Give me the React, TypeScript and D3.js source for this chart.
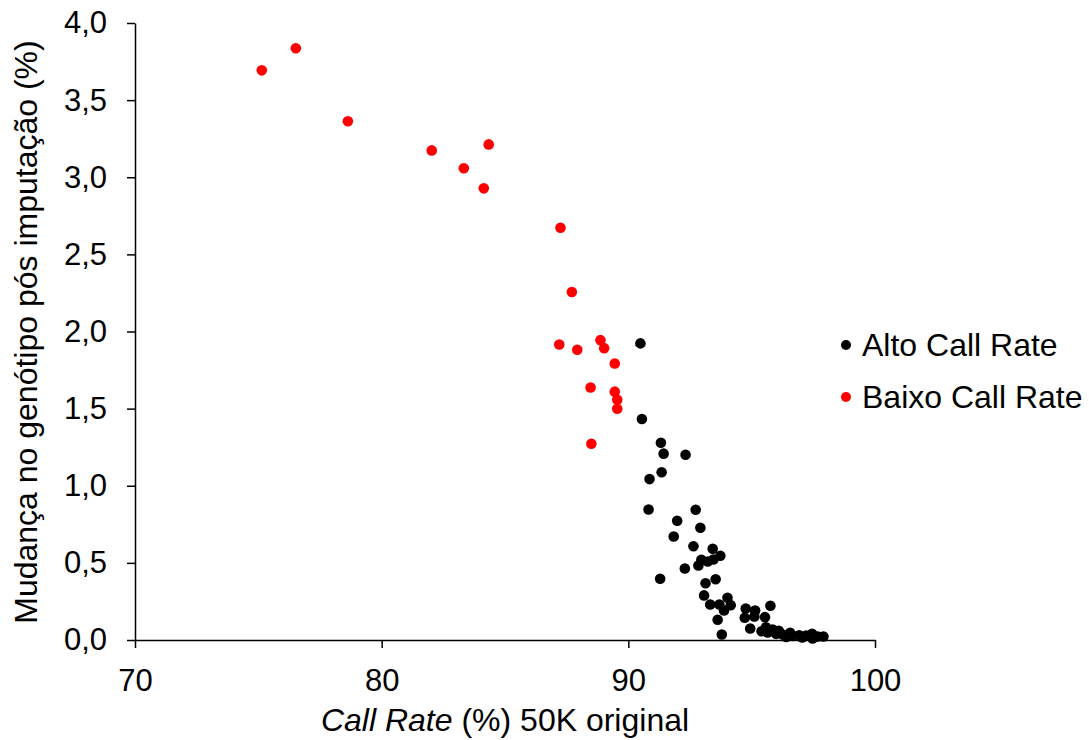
import * as d3 from "d3";
import { useEffect, useRef } from "react";

// Alto Call Rate: [call rate %, mudança %]
const altoX = [
  90.49, 90.55, 91.32, 91.43, 92.32, 91.35, 90.86, 90.82, 92.73, 91.98, 92.92, 91.84, 92.64,
  93.42, 93.73, 92.96, 93.22, 93.45, 92.84, 92.29, 91.29, 93.54, 93.13, 93.07, 94.02, 93.32,
  93.69, 94.15, 93.88, 94.76, 95.14, 95.76, 94.72, 95.11, 95.54, 93.62, 94.94, 93.79, 95.4,
  95.58, 95.65, 95.85, 95.99, 96.26, 96.56, 96.66, 96.93, 97.21, 97.45, 97.47, 97.68, 97.91,
  96.4, 97.05, 96.1,
];
const altoY = [
  1.923, 1.433, 1.279, 1.208, 1.201, 1.088, 1.043, 0.846, 0.844, 0.773, 0.728, 0.671, 0.608,
  0.591, 0.546, 0.52, 0.509, 0.522, 0.483, 0.464, 0.397, 0.394, 0.368, 0.289, 0.274, 0.23,
  0.23, 0.226, 0.191, 0.204, 0.191, 0.222, 0.144, 0.152, 0.148, 0.131, 0.075, 0.036, 0.057,
  0.083, 0.049, 0.068, 0.04, 0.036, 0.047, 0.027, 0.031, 0.029, 0.04, 0.01, 0.023, 0.023,
  0.02, 0.016, 0.06,
];

// Baixo Call Rate
const baixoX = [
  75.14, 76.52, 78.63, 82.03, 84.34, 83.33, 84.14, 87.25, 87.71, 87.2, 87.93, 88.87, 89.02,
  89.45, 88.47, 89.45, 89.55, 89.55, 88.5,
];
const baixoY = [
  3.693, 3.836, 3.363, 3.174, 3.213, 3.058, 2.928, 2.673, 2.256, 1.916, 1.882, 1.944, 1.892,
  1.793, 1.637, 1.61, 1.558, 1.499, 1.272,
];

const xTicks = [70, 80, 90, 100];
const yTicks = [0, 0.5, 1, 1.5, 2, 2.5, 3, 3.5, 4];

const series = [
  { name: "Alto Call Rate", color: "#000000", xs: altoX, ys: altoY },
  { name: "Baixo Call Rate", color: "#ff0000", xs: baixoX, ys: baixoY },
];

const font = "Arial, 'Liberation Sans', sans-serif";

export default function App() {
  const ref = useRef<SVGSVGElement>(null);

  useEffect(() => {
    const width = 1089;
    const height = 740;
    const margin = { top: 23, right: 214, bottom: 100, left: 135 };
    const innerWidth = width - margin.left - margin.right;
    const innerHeight = height - margin.top - margin.bottom;

    const svg = d3.select(ref.current);
    svg.selectAll("*").remove();

    const x = d3.scaleLinear().domain([70, 100]).range([0, innerWidth]);
    const y = d3.scaleLinear().domain([0, 4]).range([innerHeight, 0]);
    const fmt = (v: number) => d3.format(".1f")(v).replace(".", ",");

    const g = svg.append("g").attr("transform", `translate(${margin.left},${margin.top})`);

    const xAxis = g
      .append("g")
      .attr("transform", `translate(0,${innerHeight})`)
      .call(d3.axisBottom(x).tickValues(xTicks).tickSize(8).tickSizeOuter(0).tickPadding(21));
    xAxis.selectAll("text").style("font-family", font).style("font-size", "31px").attr("fill", "#000");

    const yAxis = g
      .append("g")
      .call(d3.axisLeft(y).tickValues(yTicks).tickFormat((d) => fmt(+d)).tickSize(8).tickSizeOuter(0).tickPadding(20));
    yAxis.selectAll("text").style("font-family", font).style("font-size", "31px").attr("fill", "#000");

    [xAxis, yAxis].forEach((a) => {
      a.selectAll("line").attr("stroke", "#000").attr("stroke-width", 1.5);
      a.select(".domain").attr("stroke", "#000").attr("stroke-width", 1.5);
    });

    // points: alto first, then baixo on top
    series.forEach((s) => {
      g.append("g")
        .selectAll("circle")
        .data(s.xs.map((v, i) => [v, s.ys[i]]))
        .enter()
        .append("circle")
        .attr("cx", (d) => x(d[0]))
        .attr("cy", (d) => y(d[1]))
        .attr("r", 5.3)
        .attr("fill", s.color);
    });

    // axis titles
    const xt = svg
      .append("text")
      .attr("x", margin.left + innerWidth / 2)
      .attr("y", 731)
      .attr("text-anchor", "middle")
      .style("font-family", font)
      .style("font-size", "32px");
    xt.append("tspan").style("font-style", "italic").text("Call Rate");
    xt.append("tspan").text(" (%) 50K original");

    svg
      .append("text")
      .attr("transform", `translate(37,332) rotate(-90)`)
      .attr("text-anchor", "middle")
      .style("font-family", font)
      .style("font-size", "32px")
      .text("Mudança no genótipo pós imputação (%)");

    // legend
    const legend = svg.append("g").attr("transform", "translate(846,345)");
    series.forEach((s, i) => {
      legend.append("circle").attr("cx", 0).attr("cy", i * 52).attr("r", 5).attr("fill", s.color);
      legend
        .append("text")
        .attr("x", 16)
        .attr("y", i * 52 + 11)
        .style("font-family", font)
        .style("font-size", "32px")
        .text(s.name);
    });
  }, []);

  return (
    <svg
      ref={ref}
      width={1089}
      height={740}
      style={{ position: "absolute", left: 0, top: 0, display: "block" }}
    />
  );
}
